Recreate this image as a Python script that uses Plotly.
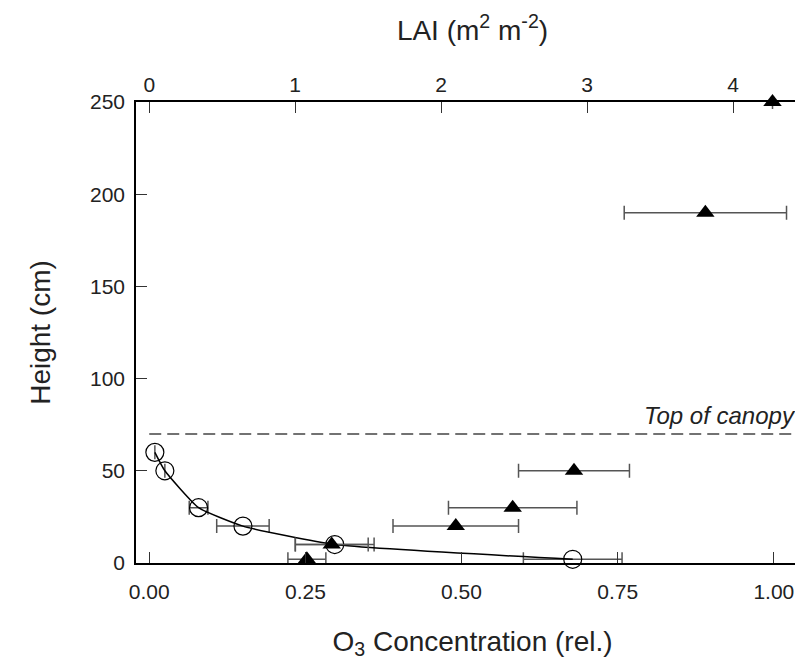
import plotly.graph_objects as go

# O3 profile (open circles, bottom axis)
o3_height = [60, 50, 30, 20, 10, 2]
o3_conc = [0.009, 0.025, 0.079, 0.150, 0.297, 0.678]
o3_err = [0.0, 0.0, 0.015, 0.042, 0.063, 0.079]

# LAI profile (filled triangles, top axis)
lai_height = [250, 190, 50, 30, 20, 10, 2]
lai_val = [4.27, 3.81, 2.91, 2.49, 2.10, 1.25, 1.08]
lai_err = [0.0, 0.556, 0.38, 0.44, 0.43, 0.25, 0.13]

canopy_top = 70

font_family = "Liberation Sans Narrow, Liberation Sans, Arial, sans-serif"
gray = "#555555"

fig = go.Figure()

# 臭氧浓度廓线
fig.add_trace(
    go.Scatter(
        x=o3_conc,
        y=o3_height,
        mode="lines+markers",
        line=dict(color="black", width=1.5, shape="spline", smoothing=0.45),
        marker=dict(symbol="circle-open", size=18, color="black", line=dict(width=1.2)),
        error_x=dict(type="data", array=o3_err, color=gray, thickness=1.5, width=7),
        cliponaxis=False,
        showlegend=False,
    )
)

# 叶面积指数
fig.add_trace(
    go.Scatter(
        x=lai_val,
        y=lai_height,
        xaxis="x2",
        mode="markers",
        marker=dict(symbol="triangle-up", size=16, color="black"),
        error_x=dict(type="data", array=lai_err, color=gray, thickness=1.5, width=7),
        cliponaxis=False,
        showlegend=False,
    )
)

# 冠层顶部虚线
fig.add_shape(
    type="line",
    xref="x",
    yref="y",
    x0=0,
    x1=1.056,
    y0=canopy_top,
    y1=canopy_top,
    line=dict(color="#444444", width=1.5, dash="12px,6px"),
)

fig.add_annotation(
    text="<i>Top of canopy</i>",
    xref="paper",
    yref="y",
    x=0.984,
    y=canopy_top,
    xanchor="right",
    yanchor="bottom",
    yshift=3,
    showarrow=False,
    font=dict(size=24, color="#222222", family=font_family),
)

axis_common = dict(
    showline=True,
    linecolor="black",
    linewidth=1.5,
    ticks="inside",
    ticklen=11,
    tickwidth=1.2,
    tickcolor="#333333",
    showgrid=False,
    zeroline=False,
    tickfont=dict(size=21, color="#222222", family=font_family),
)

# 页面 body 有 8px 默认边距，这里把绘图区往左上挪回去；右边框落在画面外
fig.update_layout(
    width=803,
    height=660,
    margin=dict(l=128, r=0, t=94, b=105),
    paper_bgcolor="white",
    plot_bgcolor="white",
    font=dict(family=font_family, color="#222222"),
    xaxis=dict(
        range=[-0.0212, 1.0563],
        tickvals=[0, 0.25, 0.5, 0.75, 1.0],
        ticktext=["0.00", "0.25", "0.50", "0.75", "1.00"],
        ticklabelstandoff=9,
        title=dict(
            text="O<sub>3</sub> Concentration (rel.)",
            font=dict(size=28, family=font_family),
            standoff=29,
        ),
        **axis_common,
    ),
    xaxis2=dict(
        range=[-0.0907, 4.520],
        overlaying="x",
        side="top",
        tickvals=[0, 1, 2, 3, 4],
        ticklabelstandoff=0,
        title=dict(
            text="LAI (m<sup>2</sup> m<sup>-2</sup>)",
            font=dict(size=28, family=font_family),
            standoff=24,
        ),
        **axis_common,
    ),
    yaxis=dict(
        range=[0, 250],
        tickvals=[0, 50, 100, 150, 200, 250],
        mirror="ticks",
        ticklabelstandoff=5,
        title=dict(
            text="Height (cm)",
            font=dict(size=28, family=font_family),
            standoff=31,
        ),
        **axis_common,
    ),
)

fig.write_html("out.html")
